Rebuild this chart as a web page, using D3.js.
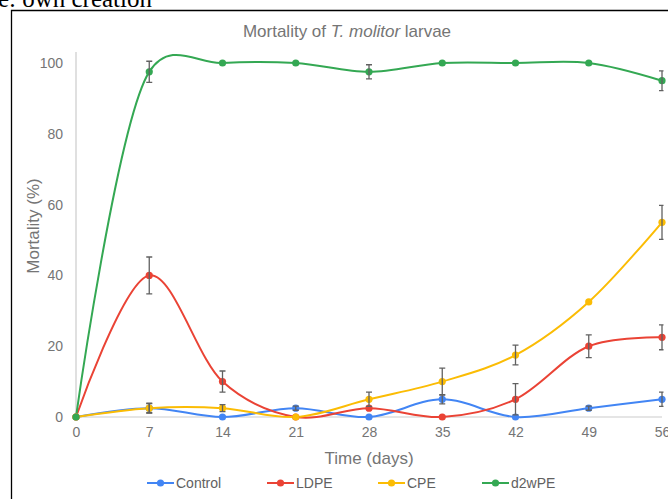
<!DOCTYPE html>
<html>
<head>
<meta charset="utf-8">
<script src="https://cdn.jsdelivr.net/npm/d3@7"></script>
<style>
  body { margin: 0; background: #fff; }
  svg { display: block; }
  text { font-family: "Liberation Sans", Arial, sans-serif; }
</style>
</head>
<body>
<div id="chart"></div>
<script>
var width = 668;
var height = 499;

// days of sampling
var days = [0, 7, 14, 21, 28, 35, 42, 49, 56];
var yTicks = [0, 20, 40, 60, 80, 100];

// mortality (%) and error per series
var control = [0, 2.5, 0, 2.5, 0, 5, 0, 2.5, 5];
var controlErr = [0, 1.3, 0, 0.6, 0, 1.3, 0, 0.6, 2];
var ldpe = [0, 40, 10, 0, 2.5, 0, 5, 20, 22.5];
var ldpeErr = [0, 5.2, 3, 0, 0, 0, 4.4, 3.2, 3.5];
var cpe = [0, 2.5, 2.5, 0, 5, 10, 17.5, 32.5, 55];
var cpeErr = [0, 1.4, 1, 0, 2, 3.8, 2.8, 0, 4.8];
var d2wpe = [0, 97.5, 100, 100, 97.5, 100, 100, 100, 95];
var d2wpeErr = [0, 3, 0, 0, 2, 0, 0, 0, 2.8];

var seriesNames = ["Control", "LDPE", "CPE", "d2wPE"];
var seriesColors = ["#4285f4", "#ea4335", "#fbbc04", "#34a853"];

var series = [
	{name: seriesNames[0], color: seriesColors[0], values: control, err: controlErr},
	{name: seriesNames[1], color: seriesColors[1], values: ldpe, err: ldpeErr},
	{name: seriesNames[2], color: seriesColors[2], values: cpe, err: cpeErr},
	{name: seriesNames[3], color: seriesColors[3], values: d2wpe, err: d2wpeErr}
];

var plot = {left: 76, right: 662, top: 63, bottom: 417};

var svg = d3.select("#chart")
	.append("svg")
	.attr("width", width)
	.attr("height", height);

// source caption cut at the top of the page
svg.append("text")
	.attr("x", 152)
	.attr("y", 7)
	.attr("text-anchor", "end")
	.style("font-family", "'Liberation Serif', 'Times New Roman', serif")
	.style("font-size", "25px")
	.style("fill", "#000")
	.text("Source: own creation");

// frame around the chart
svg.append("path")
	.attr("d", "M11.5," + height + "V10.5H" + width)
	.style("fill", "none")
	.style("stroke", "#000")
	.style("stroke-width", 1.3);

var x_scale = d3.scaleLinear()
	.domain([0, 56])
	.range([plot.left, plot.right]);

var y_scale = d3.scaleLinear()
	.domain([0, 100])
	.range([plot.bottom, plot.top]);

// axes
var xAxis = d3.axisBottom(x_scale).tickValues(days).tickSize(0).tickPadding(10);
var yAxis = d3.axisLeft(y_scale).tickValues(yTicks).tickSize(0).tickPadding(13);

var gx = svg.append("g")
	.attr("transform", "translate(0," + plot.bottom + ")")
	.call(xAxis);
gx.select(".domain").remove();
gx.selectAll("text")
	.style("font-size", "14px")
	.style("fill", "#757575")
	.style("font-family", "'Liberation Sans', Arial, sans-serif");

var gy = svg.append("g")
	.attr("transform", "translate(" + plot.left + ",0)")
	.call(yAxis);
gy.select(".domain").remove();
gy.selectAll("text")
	.style("font-size", "14px")
	.style("fill", "#757575")
	.style("font-family", "'Liberation Sans', Arial, sans-serif");

// axis lines
svg.append("line")
	.attr("x1", plot.left).attr("x2", plot.left)
	.attr("y1", 52).attr("y2", plot.bottom)
	.style("stroke", "#cccccc").style("stroke-width", 1.2);
svg.append("line")
	.attr("x1", plot.left).attr("x2", plot.right)
	.attr("y1", plot.bottom).attr("y2", plot.bottom)
	.style("stroke", "#cccccc").style("stroke-width", 1.2);

// titles
svg.append("text")
	.attr("x", 347)
	.attr("y", 37)
	.attr("text-anchor", "middle")
	.style("font-size", "17px")
	.style("fill", "#757575")
	.call(function(t) {
		t.append("tspan").text("Mortality of ");
		t.append("tspan").style("font-style", "italic").text("T. molitor");
		t.append("tspan").text(" larvae");
	});

svg.append("text")
	.attr("x", (plot.left + plot.right) / 2)
	.attr("y", 464)
	.attr("text-anchor", "middle")
	.style("font-size", "17px")
	.style("fill", "#757575")
	.text("Time (days)");

svg.append("text")
	.attr("transform", "translate(39,226) rotate(-90)")
	.attr("text-anchor", "middle")
	.style("font-size", "17px")
	.style("fill", "#757575")
	.text("Mortality (%)");

// lines
var line = d3.line()
	.x(function(d, i) { return x_scale(days[i]); })
	.y(function(d) { return y_scale(d); })
	.curve(d3.curveCatmullRom.alpha(0.25));

var lines = svg.append("g");
series.forEach(function(s) {
	lines.append("path")
		.attr("d", line(s.values))
		.style("fill", "none")
		.style("stroke", s.color)
		.style("stroke-width", 2);
});

// markers
series.forEach(function(s) {
	svg.append("g").selectAll("circle")
		.data(s.values)
		.enter()
		.append("circle")
		.attr("cx", function(d, i) { return x_scale(days[i]); })
		.attr("cy", function(d) { return y_scale(d); })
		.attr("r", 3.6)
		.style("fill", s.color);
});

// error bars, clipped to the plot area
svg.append("clipPath").attr("id", "clip")
	.append("rect")
	.attr("x", plot.left - 6).attr("y", 0)
	.attr("width", plot.right - plot.left + 7.5)
	.attr("height", plot.bottom);

var errs = svg.append("g").attr("clip-path", "url(#clip)");
series.forEach(function(s) {
	s.values.forEach(function(v, i) {
		if (s.err[i] <= 0) return;
		var cx = x_scale(days[i]);
		var y1 = y_scale(v + s.err[i]);
		var y2 = y_scale(v - s.err[i]);
		errs.append("path")
			.attr("d", "M" + (cx - 3) + "," + y1 + "H" + (cx + 3) +
				"M" + cx + "," + y1 + "V" + y2 +
				"M" + (cx - 3) + "," + y2 + "H" + (cx + 3))
			.style("fill", "none")
			.style("stroke", "#616161")
			.style("stroke-width", 1.3);
	});
});

// legend
var legendX = [147, 267, 378, 482];
var legend = svg.append("g");
series.forEach(function(s, i) {
	var g = legend.append("g").attr("transform", "translate(" + legendX[i] + ",483)");
	g.append("line")
		.attr("x1", 0).attr("x2", 27)
		.style("stroke", s.color).style("stroke-width", 2);
	g.append("circle").attr("cx", 13.5).attr("r", 3.6).style("fill", s.color);
	g.append("text")
		.attr("x", 29)
		.attr("dy", "0.36em")
		.style("font-size", "14px")
		.style("fill", "#616161")
		.text(s.name);
});
</script>
</body>
</html>
